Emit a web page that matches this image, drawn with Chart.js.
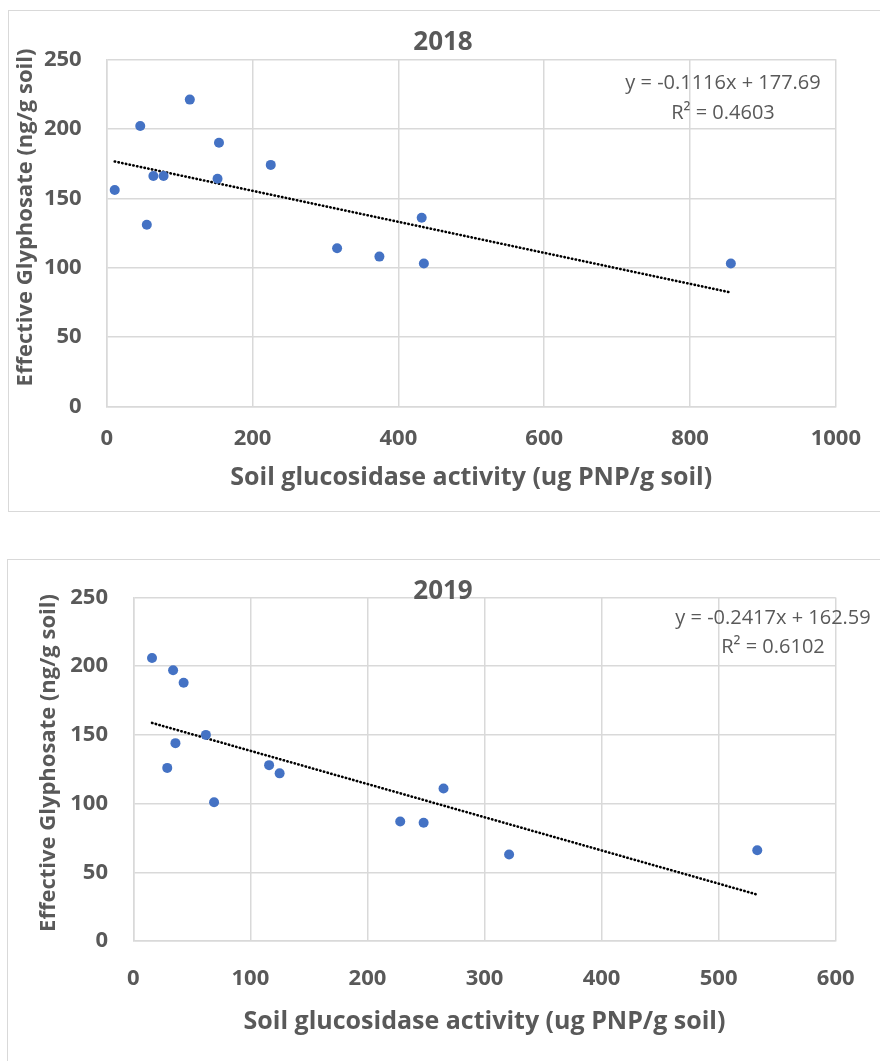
<!DOCTYPE html>
<html>
<head>
<meta charset="utf-8">
<script src="https://cdn.jsdelivr.net/npm/chart.js@4.4.0/dist/chart.umd.min.js"></script>
<style>
body { margin: 0; background: #fff; width: 880px; height: 1061px; overflow: hidden; position: relative; }
.frame { position: absolute; border: 1px solid #d9d9d9; box-sizing: border-box; }
canvas { position: absolute; }
</style>
</head>
<body>
<div class="frame" style="left:8px;top:10px;width:900px;height:502px"></div>
<canvas id="graph_2018" width="872" height="501" style="left:8px;top:10px"></canvas>
<div class="frame" style="left:7px;top:559px;width:900px;height:600px"></div>
<canvas id="graph_2019" width="873" height="502" style="left:7px;top:559px"></canvas>

<script>
/*------------------------------*/
/*            Données           */
/*------------------------------*/
var gluco_2018 = [11, 46, 55, 64, 78, 114, 152, 154, 225, 316, 374, 432, 435, 856]
var glypho_2018 = [156, 202, 131, 166, 166, 221, 164, 190, 174, 114, 108, 136, 103, 103]
var slope_2018 = -0.1116
var intercept_2018 = 177.69
var r2_2018 = '0.4603'

var gluco_2019 = [16, 34, 43, 62, 36, 29, 69, 116, 125, 228, 248, 265, 321, 533]
var glypho_2019 = [206, 197, 188, 150, 144, 126, 101, 128, 122, 87, 86, 111, 63, 66]
var slope_2019 = -0.2417
var intercept_2019 = 162.59
var r2_2019 = '0.6102'

var yTicks = [0, 50, 100, 150, 200, 250]
var xMax_2018 = 1000, xStep_2018 = 200
var xMax_2019 = 600, xStep_2019 = 100

var grey = '#595959'
var gridGrey = '#d9d9d9'
var fontFamily = "'Open Sans', sans-serif"

/*------------------------------*/
/*   Textes libres (titre, eq.) */
/*------------------------------*/
var freeText = {
    id: 'freeText',
    afterDraw: function (chart, args, opts) {
        var ctx = chart.ctx
        ctx.save()
        ctx.fillStyle = grey
        ctx.textBaseline = 'middle'
        ctx.textAlign = 'center'
        opts.items.forEach(function (t) {
            ctx.font = (t.bold ? 'bold ' : '') + t.size + 'px ' + fontFamily
            ctx.save()
            ctx.translate(t.x, t.y)
            if (t.rotate) ctx.rotate(-Math.PI / 2)
            ctx.fillText(t.text, 0, 0)
            ctx.restore()
        })
        ctx.restore()
    }
}

function trendEq(slope, intercept) {
    return 'y = ' + slope + 'x + ' + intercept
}

function makeConfig(xs, ys, slope, intercept, xMax, xStep, box, texts) {
    var points = xs.map(function (x, i) { return { x: x, y: ys[i] } })
    var xmin = Math.min.apply(null, xs)
    var xmax = Math.max.apply(null, xs)
    var trend = [
        { x: xmin, y: slope * xmin + intercept },
        { x: xmax, y: slope * xmax + intercept }
    ]
    return {
        type: 'scatter',
        data: {
            datasets: [
                {
                    data: points,
                    backgroundColor: '#4472c4',
                    borderWidth: 0,
                    pointRadius: 5,
                    pointHoverRadius: 5
                },
                {
                    data: trend,
                    showLine: true,
                    borderColor: '#000',
                    borderWidth: 2.6,
                    borderCapStyle: 'round',
                    borderDash: [0.4, 3.4],
                    pointRadius: 0
                }
            ]
        },
        options: {
            responsive: false,
            animation: false,
            events: [],
            layout: {
                autoPadding: false,
                padding: { left: 0, top: box.top, right: box.right, bottom: 0 }
            },
            plugins: {
                legend: { display: false },
                tooltip: { enabled: false },
                freeText: { items: texts }
            },
            scales: {
                x: {
                    type: 'linear',
                    min: 0,
                    max: xMax,
                    ticks: {
                        stepSize: xStep,
                        color: grey,
                        padding: box.xTickPad,
                        font: { family: fontFamily, size: 22, weight: 'bold' },
                        callback: function (v) { return String(v) }
                    },
                    grid: { color: gridGrey, lineWidth: 1.5, drawTicks: false },
                    border: { color: gridGrey, width: 1.5 },
                    title: {
                        display: true,
                        text: 'Soil glucosidase activity (ug PNP/g soil)',
                        color: grey,
                        padding: { top: 0, bottom: box.xTitlePad },
                        font: { family: fontFamily, size: 25, weight: 'bold' }
                    },
                    afterFit: function (s) { s.height = box.xHeight }
                },
                y: {
                    min: 0,
                    max: 250,
                    afterBuildTicks: function (s) {
                        s.ticks = yTicks.map(function (v) { return { value: v } })
                    },
                    ticks: {
                        color: grey,
                        padding: box.yTickPad,
                        font: { family: fontFamily, size: 22, weight: 'bold' }
                    },
                    grid: { color: gridGrey, lineWidth: 1.5, drawTicks: false },
                    border: { color: gridGrey, width: 1.5 },
                    afterFit: function (s) { s.width = box.yWidth }
                }
            }
        },
        plugins: [freeText]
    }
}

/*------------------------------*/
/*           Graphe 2018        */
/*------------------------------*/
var ctx_2018 = document.getElementById('graph_2018').getContext('2d')
var graph_2018 = new Chart(ctx_2018, makeConfig(
    gluco_2018, glypho_2018, slope_2018, intercept_2018, xMax_2018, xStep_2018,
    { top: 49.3, right: 41.7, yWidth: 98.7, xHeight: 104.3, xTickPad: 19, xTitlePad: 18, yTickPad: 25 },
    [
        { text: '2018', x: 435, y: 33, size: 26, bold: true },
        { text: trendEq(slope_2018, intercept_2018), x: 715, y: 73, size: 20 },
        { text: 'R² = ' + r2_2018, x: 715, y: 103, size: 20 },
        { text: 'Effective Glyphosate (ng/g soil)', x: 18, y: 207.5, size: 22, bold: true, rotate: true }
    ]
))

/*------------------------------*/
/*           Graphe 2019        */
/*------------------------------*/
var ctx_2019 = document.getElementById('graph_2019').getContext('2d')
var graph_2019 = new Chart(ctx_2019, makeConfig(
    gluco_2019, glypho_2019, slope_2019, intercept_2019, xMax_2019, xStep_2019,
    { top: 23.7, right: 44.3, yWidth: 126.3, xHeight: 120, xTickPad: 24.8, xTitlePad: 23.7, yTickPad: 25.3 },
    [
        { text: '2019', x: 436, y: 32.7, size: 26, bold: true },
        { text: trendEq(slope_2019, intercept_2019), x: 766, y: 59, size: 20 },
        { text: 'R² = ' + r2_2019, x: 766, y: 88, size: 20 },
        { text: 'Effective Glyphosate (ng/g soil)', x: 42, y: 204, size: 22, bold: true, rotate: true }
    ]
))
</script>
</body>
</html>
